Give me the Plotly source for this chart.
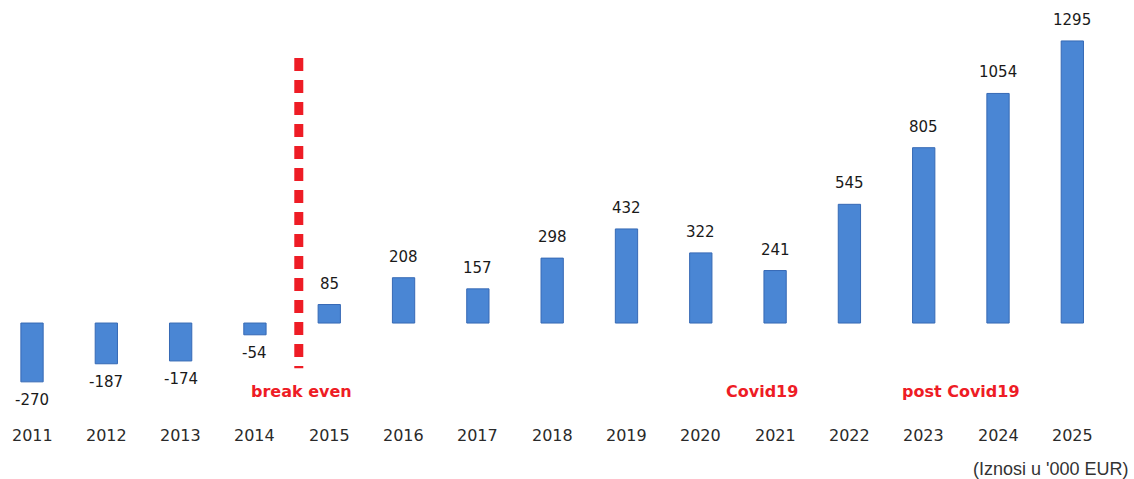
import plotly.graph_objects as go

years = [2011, 2012, 2013, 2014, 2015, 2016, 2017, 2018, 2019, 2020, 2021, 2022, 2023, 2024, 2025]
values = [-270, -187, -174, -54, 85, 208, 157, 298, 432, 322, 241, 545, 805, 1054, 1295]
year_labels = [str(y) for y in years]
notes = [("break even", 2014.63), ("Covid19", 2020.83), ("post Covid19", 2023.5)]
unit_note = "(Iznosi u '000 EUR)"
break_even_x = 2014.59

fig = go.Figure()
fig.add_trace(go.Bar(
    x=years, y=values, width=0.3,
    marker=dict(color="#4a86d4", line=dict(color="#3669b5", width=1)),
    hoverinfo="skip",
))

for yr, v in zip(years, values):
    fig.add_annotation(x=yr, y=v, text=str(v), showarrow=False,
                       yanchor="bottom" if v >= 0 else "top",
                       yshift=10 if v >= 0 else -7,
                       font=dict(family="DejaVu Sans", size=15, color="#1a1a1a"))

for lab, yr in zip(year_labels, years):
    fig.add_annotation(x=yr, y=-514, text=lab, showarrow=False,
                       font=dict(family="DejaVu Sans", size=16, color="#2a2a2a"))

fig.add_shape(type="line", x0=break_even_x, x1=break_even_x, y0=1217, y1=-207,
              line=dict(color="#ee1c25", width=9, dash="13px,9px"))

for txt, xv in notes:
    fig.add_annotation(x=xv, y=-312, text="<b>" + txt + "</b>", showarrow=False,
                       font=dict(family="DejaVu Sans", size=16, color="#ee1c25"))

fig.add_annotation(x=0.997, xref="paper", y=-670,
                   text=unit_note, showarrow=False, xanchor="right",
                   font=dict(family="Liberation Sans", size=18, color="#333333"))

fig.update_layout(
    width=1134, height=479, margin=dict(l=0, r=0, t=0, b=0),
    paper_bgcolor="white", plot_bgcolor="white", showlegend=False,
    xaxis=dict(range=[2010.569, 2025.83], visible=False),
    yaxis=dict(range=[-716, 1483], visible=False),
)
fig.write_html("out.html", config={"displayModeBar": False},
               post_script="document.body.style.margin='0';document.body.style.overflow='hidden';")
